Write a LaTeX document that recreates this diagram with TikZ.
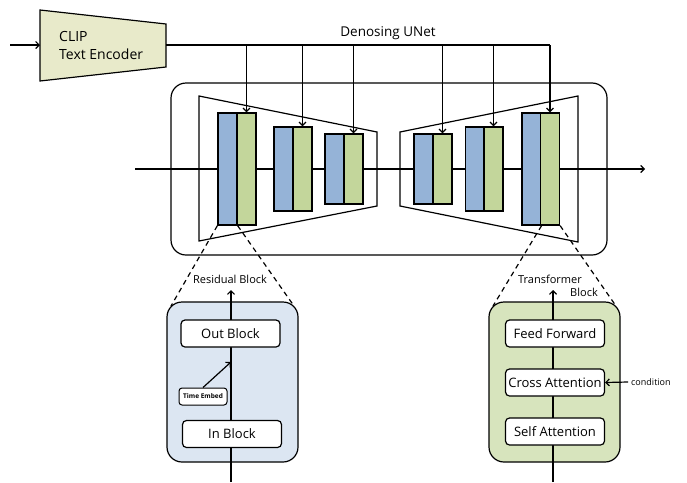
\documentclass[tikz,border=0pt]{standalone}
\usepackage{fontspec}
\setmainfont{Open Sans}
\usetikzlibrary{arrows.meta}
\definecolor{clipfill}{HTML}{E8EACA}
\definecolor{blkblue}{HTML}{95B3D7}
\definecolor{blkgreen}{HTML}{C3D69B}
\definecolor{resfill}{HTML}{DCE6F2}
\definecolor{trfill}{HTML}{D7E4BD}
\tikzset{
  ln/.style={line width=1.2pt, draw=black},
  arr/.style={ln, -{Straight Barb[length=3.5pt,width=7pt]}},
  bb/.style={ln, fill=blkblue, minimum width=19pt, inner sep=0pt},
  gb/.style={ln, fill=blkgreen, minimum width=19pt, inner sep=0pt},
  panel/.style={ln, rounded corners=15pt},
  inbox/.style={ln, fill=white, rounded corners=4pt, minimum width=99pt, minimum height=27pt, inner sep=0pt, font=\fontsize{13}{15}\selectfont},
  dashln/.style={ln, dash pattern=on 5pt off 4pt}
}
\begin{document}
\begin{tikzpicture}[x=1pt,y=-1pt]
\useasboundingbox (0,0) rectangle (687,482);
% CLIP encoder
\draw[ln, fill=clipfill] (40,10) -- (166,24) -- (166,67) -- (40,81) -- cycle;
\node[align=left, anchor=west, inner sep=0pt, font=\fontsize{14}{18}\selectfont] (clip) at (59,45) {CLIP\\Text Encoder};
\coordinate (clipin) at (10,45);
\coordinate (clipL) at (40,45);
\coordinate (clipR) at (166,45);
\draw[arr] (clipin) -- (clipL);
\node[inner sep=0pt, font=\fontsize{13.5}{16}\selectfont] (unet) at (388,33) {Denosing UNet};
% big container
\draw[panel] (171,83) rectangle (607,255);
% trapezoids
\draw[ln] (199,96) -- (377,132) -- (377,206) -- (199,241) -- cycle;
\draw[ln] (400,132) -- (578,96) -- (578,242) -- (400,206) -- cycle;
% main line
\coordinate (mainin) at (135,169);
\coordinate (mainout) at (645,169);
\draw[arr] (mainin) -- (mainout);
% blocks
\node[bb, minimum height=112pt] (b1) at (227.5,169) {};
\node[gb, minimum height=112pt] (g1) at (246.5,169) {};
\node[bb, minimum height=84pt] (b2) at (283.5,169) {};
\node[gb, minimum height=84pt] (g2) at (302.5,169) {};
\node[bb, minimum height=70pt] (b3) at (334.5,169) {};
\node[gb, minimum height=70pt] (g3) at (353.5,169) {};
\node[bb, minimum height=70pt] (b4) at (423.5,169) {};
\node[gb, minimum height=70pt] (g4) at (442.5,169) {};
\node[bb, minimum height=84pt] (b5) at (475,169) {};
\node[gb, minimum height=84pt] (g5) at (493.5,169) {};
\node[bb, minimum height=112pt] (b6) at (531.5,169) {};
\node[gb, minimum height=112pt] (g6) at (550,169) {};
% condition lines
\draw[ln] (clipR) -- (g6.north |- clipR);
\foreach \g in {g1,g2,g3,g4,g5,g6}{
  \draw[arr] (\g.north |- clipR) -- (\g.north);
}
% Residual panel
\draw[panel, fill=resfill] (167,302) rectangle (298,462);
\coordinate (rescornL) at (171,306);
\coordinate (rescornR) at (294,306);
\draw[dashln] (b1.south west) -- (rescornL);
\draw[dashln] (b1.south east) -- (rescornR);
\coordinate (resbot) at (231,482);
\coordinate (restop) at (231,290);
\draw[arr] (resbot) -- (restop);
\node[inner sep=0pt, font=\fontsize{11}{12}\selectfont] (reslab) at (230,279) {Residual Block};
\node[inbox] (outb) at (230.5,333.5) {Out Block};
\node[inbox] (inb) at (232,434) {In Block};
\node[ln, line width=1pt, fill=white, rounded corners=3pt, minimum width=48pt, minimum height=17pt, inner sep=0pt, font=\fontsize{6.5}{8}\bfseries] (temb) at (203,396.5) {Time Embed};
\coordinate (tembto) at (231,362);
\draw[arr] (temb.north) -- (tembto);
% Transformer panel
\draw[panel, fill=trfill] (489,302) rectangle (620,462);
\coordinate (trcornL) at (493,306);
\coordinate (trcornR) at (616,306);
\draw[dashln] (b6.south east) -- (trcornL);
\draw[dashln] (g6.south east) -- (trcornR);
\coordinate (trbot) at (553,482);
\coordinate (trtop) at (553,290);
\draw[arr] (trbot) -- (trtop);
\node[inner sep=0pt, font=\fontsize{11}{12}\selectfont] (trlab1) at (550,279) {Transformer};
\node[inner sep=0pt, font=\fontsize{11}{12}\selectfont, anchor=east] (trlab2) at (598,292) {Block};
\node[inbox] (ff) at (555,333.5) {Feed Forward};
\node[inbox] (ca) at (555,382.5) {Cross Attention};
\node[inbox] (sa) at (555,431.5) {Self Attention};
\node[inner sep=0pt, anchor=west, font=\fontsize{9}{10}\selectfont] (cond) at (631,382) {condition};
\draw[arr] ([xshift=-3pt]cond.west) -- (ca.east);
\end{tikzpicture}
\end{document}
